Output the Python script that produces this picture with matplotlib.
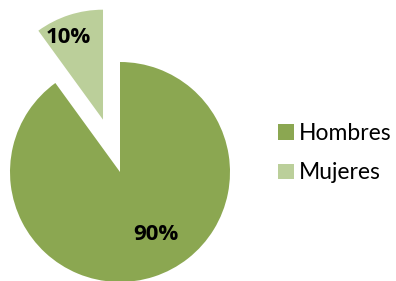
import matplotlib.pyplot as plt
from matplotlib.patches import Patch

# data
labels = ['Hombres', 'Mujeres']
values = [90, 10]
pct_text = ['90%', '10%']
colors = ['#8ba751', '#bbcf9a']
explode = [0, 0.5]

fig = plt.figure(figsize=(3.96, 2.81), dpi=100)
ax = fig.add_axes([0, 0, 1, 1])

wedges, _ = ax.pie(values, colors=colors, explode=explode, startangle=90,
                   counterclock=False, radius=1.0,
                   wedgeprops=dict(linewidth=0))

# label positions (in radius units from pie centre)
ax.text(0.33, -0.57, pct_text[0], ha='center', va='center',
        fontsize=16, fontweight='bold', family='Open Sans', color='black')
ax.text(-0.47, 1.22, pct_text[1], ha='center', va='center',
        fontsize=16, fontweight='bold', family='Open Sans', color='black')

# pixel-based view: centre at (120, 172) px, radius 110 px
s = 110.0
ax.set_xlim(-120 / s, (396 - 120) / s)
ax.set_ylim(-(281 - 172) / s, 172 / s)
ax.set_aspect('equal')
ax.axis('off')

handles = [Patch(facecolor=c, edgecolor='none') for c in colors]
fig.legend(handles, labels, loc='center left', bbox_to_anchor=(0.703, 0.455),
           frameon=False, prop={'family': 'Lato', 'size': 16.5},
           handlelength=0.66, handleheight=0.66, handletextpad=0.25,
           labelspacing=0.8, borderpad=0, borderaxespad=0)

fig.savefig('out.png', dpi=100)
